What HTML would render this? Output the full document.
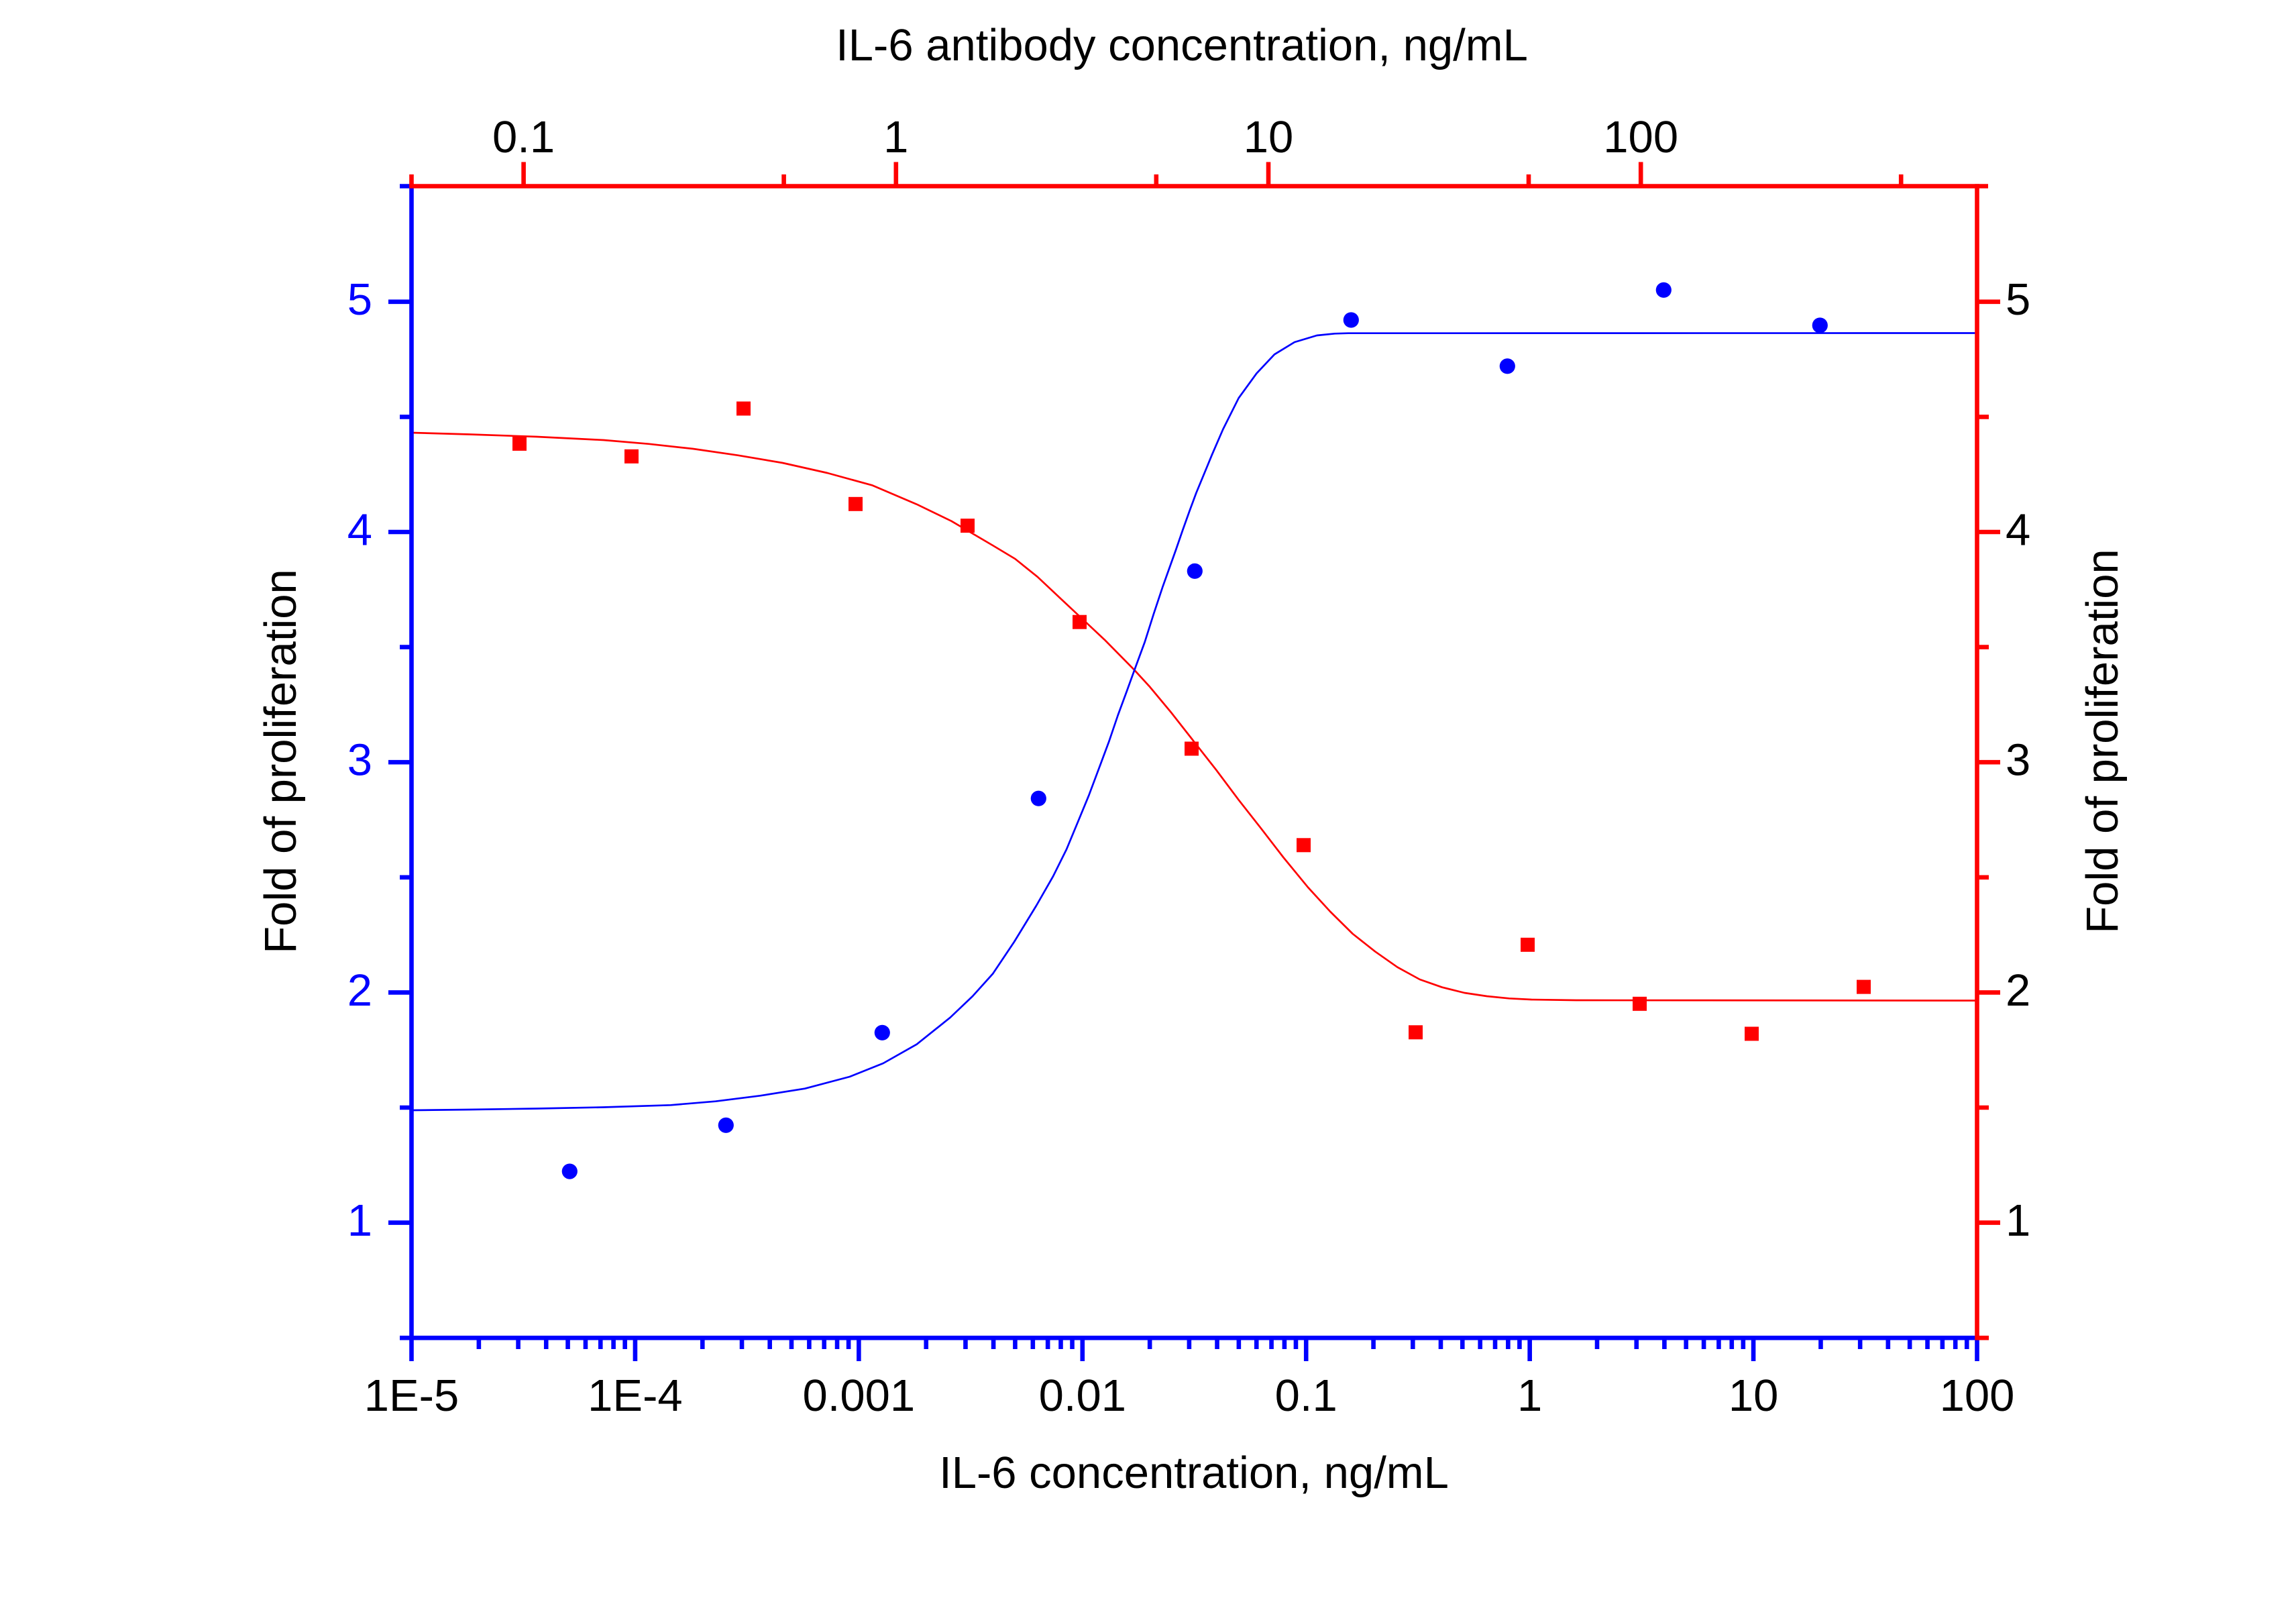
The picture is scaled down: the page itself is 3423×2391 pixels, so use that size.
<!DOCTYPE html>
<html>
<head>
<meta charset="utf-8">
<style>
  html,body{margin:0;padding:0;background:#fff;}
  svg{display:block;}
  text{font-family:"Liberation Sans", Arial, sans-serif;}
</style>
</head>
<body>
<svg width="3423" height="2391" viewBox="0 0 3423 2391" xmlns="http://www.w3.org/2000/svg">
  <rect x="0" y="0" width="3423" height="2391" fill="#ffffff"/>

  <!-- ===== Curves ===== -->
  <polyline fill="none" stroke="#ff0000" stroke-width="2.7" stroke-linejoin="round"
    points="613.5,645 700,647.5 800,651 900,656 966.7,661.7 1033.3,669 1100,678.7 1166.7,690 1233.3,705 1300,723.3 1366.7,751.7 1418.3,776.7 1480,813 1513.3,833 1546.7,859.8 1580,891.1 1613.3,922.3 1646.7,953.6 1690.7,998.2 1713.3,1022.8 1746.7,1062.9 1780,1105.4 1813.3,1147.8 1846.7,1192.4 1880,1234.8 1913.3,1278 1950,1322.7 1983.3,1359 2016.7,1392 2050,1418.3 2083.3,1441.7 2116.7,1460 2150,1471.7 2183.3,1480 2216.7,1485 2250,1488.3 2283.3,1490 2350,1491 2947.5,1491.5"/>
  <polyline fill="none" stroke="#0000ff" stroke-width="2.7" stroke-linejoin="round"
    points="613.5,1655 700,1654 800,1652.5 900,1650.5 1000,1647.3 1066.7,1641.7 1133.3,1633.3 1200,1622.7 1266.7,1605 1316.7,1585 1366.7,1556.7 1416.7,1516.7 1450,1485 1480,1451.7 1512,1404 1545,1350 1570,1306.3 1590,1266.1 1606.7,1225.9 1623.3,1185.7 1640,1141.1 1653.3,1105.4 1666.7,1066 1680,1030 1690.7,1000.4 1706.7,957 1720,915 1733.3,875 1743.3,847 1753.3,819 1763.3,790 1773.3,762 1783.3,735 1800,694.6 1806.7,678.3 1823.3,640 1846.7,593.3 1873.3,556.7 1900,528.3 1930,510 1963.3,500 1990,497.3 2010,496.7 2947.5,496.5"/>

  <!-- ===== Markers ===== -->
  <g fill="#ff0000">
    <rect x="764" y="650.9" width="21" height="21"/>
    <rect x="931" y="669.8" width="21" height="21"/>
    <rect x="1098" y="598.5" width="21" height="21"/>
    <rect x="1265" y="740.8" width="21" height="21"/>
    <rect x="1432" y="773.1" width="21" height="21"/>
    <rect x="1599" y="916.7" width="21" height="21"/>
    <rect x="1766" y="1105.5" width="21" height="21"/>
    <rect x="1933" y="1249.3" width="21" height="21"/>
    <rect x="2100" y="1528.3" width="21" height="21"/>
    <rect x="2267" y="1397.8" width="21" height="21"/>
    <rect x="2434" y="1485.8" width="21" height="21"/>
    <rect x="2601" y="1530.5" width="21" height="21"/>
    <rect x="2768" y="1460.6" width="21" height="21"/>
  </g>
  <g fill="#0000ff">
    <circle cx="849.3" cy="1746.1" r="11.6"/>
    <circle cx="1082.3" cy="1677.3" r="11.6"/>
    <circle cx="1315.3" cy="1539.3" r="11.6"/>
    <circle cx="1548.3" cy="1190.2" r="11.6"/>
    <circle cx="1781.3" cy="851.3" r="11.6"/>
    <circle cx="2014.3" cy="477" r="11.6"/>
    <circle cx="2247.3" cy="545.8" r="11.6"/>
    <circle cx="2480.3" cy="432.3" r="11.6"/>
    <circle cx="2713.3" cy="485" r="11.6"/>
  </g>

  <!-- ===== Blue axes (left + bottom) ===== -->
  <g stroke="#0000ff" stroke-width="6.6" fill="none" stroke-linecap="butt">
    <!-- left axis -->
    <line x1="613.5" y1="277.5" x2="613.5" y2="2029"/>
    <!-- bottom axis -->
    <line x1="596" y1="1994.3" x2="2947.5" y2="1994.3"/>
    <!-- left major ticks -->
    <path d="M579,1822.6H613.5 M579,1479.4H613.5 M579,1136.2H613.5 M579,793H613.5 M579,449.8H613.5"/>
    <!-- left minor ticks -->
    <path d="M596,1651H613.5 M596,1307.8H613.5 M596,964.6H613.5 M596,621.4H613.5 M596,277.5H613.5"/>
    <!-- bottom major ticks -->
    <path d="M946.93,1994V2029 M1280.36,1994V2029 M1613.79,1994V2029 M1947.22,1994V2029 M2280.65,1994V2029 M2614.08,1994V2029 M2947.5,1994V2029"/>
    <!-- bottom minor ticks -->
    <path d="M713.87,1994V2011 M772.59,1994V2011 M814.24,1994V2011 M846.56,1994V2011 M872.96,1994V2011 M895.28,1994V2011 M914.62,1994V2011 M931.67,1994V2011
             M1047.30,1994V2011 M1106.02,1994V2011 M1147.67,1994V2011 M1179.99,1994V2011 M1206.39,1994V2011 M1228.71,1994V2011 M1248.05,1994V2011 M1265.10,1994V2011
             M1380.73,1994V2011 M1439.45,1994V2011 M1481.10,1994V2011 M1513.42,1994V2011 M1539.82,1994V2011 M1562.14,1994V2011 M1581.48,1994V2011 M1598.53,1994V2011
             M1714.16,1994V2011 M1772.88,1994V2011 M1814.53,1994V2011 M1846.85,1994V2011 M1873.25,1994V2011 M1895.57,1994V2011 M1914.91,1994V2011 M1931.96,1994V2011
             M2047.59,1994V2011 M2106.31,1994V2011 M2147.96,1994V2011 M2180.28,1994V2011 M2206.68,1994V2011 M2229.00,1994V2011 M2248.34,1994V2011 M2265.39,1994V2011
             M2381.02,1994V2011 M2439.74,1994V2011 M2481.39,1994V2011 M2513.71,1994V2011 M2540.11,1994V2011 M2562.43,1994V2011 M2581.77,1994V2011 M2598.82,1994V2011
             M2714.45,1994V2011 M2773.17,1994V2011 M2814.82,1994V2011 M2847.14,1994V2011 M2873.54,1994V2011 M2895.86,1994V2011 M2915.20,1994V2011 M2932.25,1994V2011"/>
  </g>

  <!-- ===== Red axes (top + right) ===== -->
  <g stroke="#ff0000" stroke-width="6.6" fill="none" stroke-linecap="butt">
    <!-- top axis -->
    <line x1="610.2" y1="277.5" x2="2964" y2="277.5"/>
    <!-- right axis -->
    <line x1="2947.5" y1="274.2" x2="2947.5" y2="1997.6"/>
    <!-- top major ticks -->
    <path d="M780.6,277.5V241.5 M1335.8,277.5V241.5 M1891,277.5V241.5 M2446.2,277.5V241.5"/>
    <!-- top minor ticks -->
    <path d="M613.5,277.5V260 M1168.6,277.5V260 M1723.8,277.5V260 M2279,277.5V260 M2834.2,277.5V260"/>
    <!-- right major ticks -->
    <path d="M2947.5,1822.6H2982 M2947.5,1479.4H2982 M2947.5,1136.2H2982 M2947.5,793H2982 M2947.5,449.8H2982"/>
    <!-- right minor ticks -->
    <path d="M2947.5,1994.3H2965 M2947.5,1651H2965 M2947.5,1307.8H2965 M2947.5,964.6H2965 M2947.5,621.4H2965"/>
  </g>

  <!-- ===== Tick labels ===== -->
  <g font-size="67" fill="#0000ff" text-anchor="end">
    <text x="555" y="1842">1</text>
    <text x="555" y="1499">2</text>
    <text x="555" y="1155.5">3</text>
    <text x="555" y="812.5">4</text>
    <text x="555" y="469">5</text>
  </g>
  <g font-size="67" fill="#000000" text-anchor="start">
    <text x="2990" y="1842">1</text>
    <text x="2990" y="1499">2</text>
    <text x="2990" y="1155.5">3</text>
    <text x="2990" y="812.5">4</text>
    <text x="2990" y="469">5</text>
  </g>
  <g font-size="67" fill="#000000" text-anchor="middle">
    <text x="613.5" y="2103">1E-5</text>
    <text x="946.93" y="2103">1E-4</text>
    <text x="1280.36" y="2103">0.001</text>
    <text x="1613.79" y="2103">0.01</text>
    <text x="1947.22" y="2103">0.1</text>
    <text x="2280.65" y="2103">1</text>
    <text x="2614.08" y="2103">10</text>
    <text x="2947.5" y="2103">100</text>

    <text x="780.6" y="227">0.1</text>
    <text x="1335.8" y="227">1</text>
    <text x="1891" y="227">10</text>
    <text x="2446.2" y="227">100</text>
  </g>

  <!-- ===== Axis titles ===== -->
  <g font-size="67" fill="#000000" text-anchor="middle">
    <text x="1762" y="90">IL-6 antibody concentration, ng/mL</text>
    <text x="1780" y="2218">IL-6 concentration, ng/mL</text>
    <text transform="translate(441,1135) rotate(-90)">Fold of proliferation</text>
    <text transform="translate(3157,1105) rotate(-90)">Fold of proliferation</text>
  </g>
</svg>
</body>
</html>
